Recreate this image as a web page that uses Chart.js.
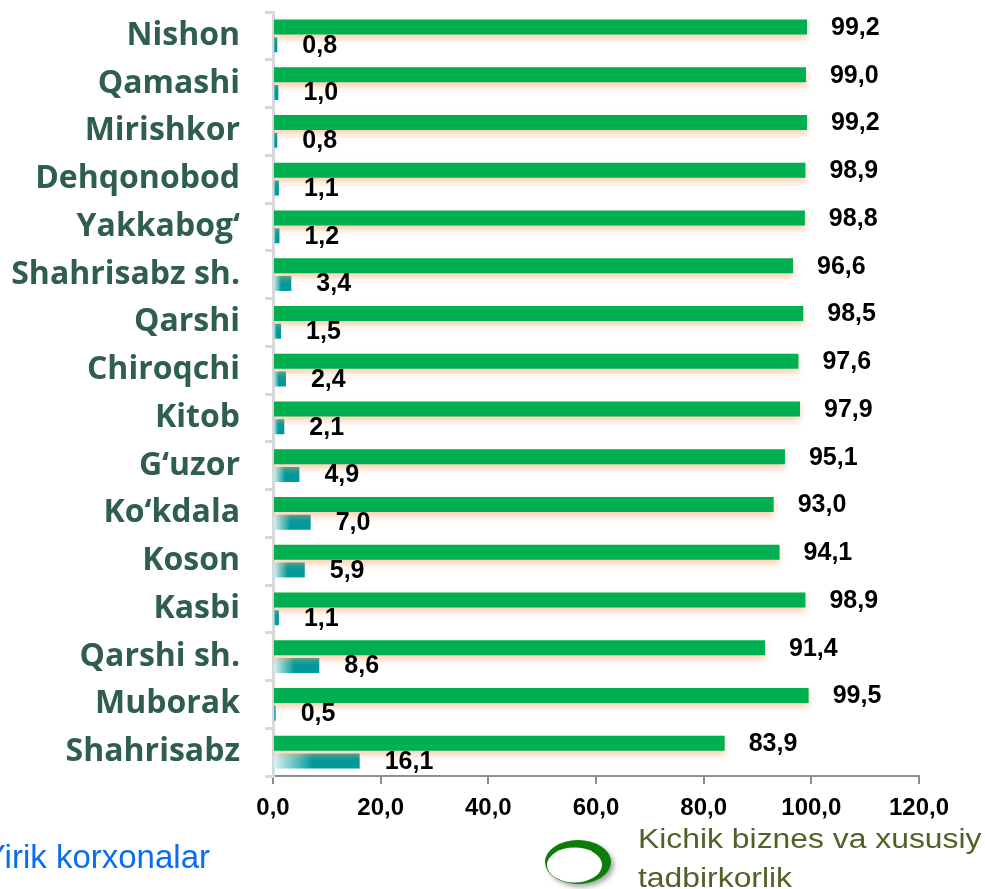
<!DOCTYPE html>
<html>
<head>
<meta charset="utf-8">
<script src="https://cdn.jsdelivr.net/npm/chart.js@4.4.1/dist/chart.umd.min.js"></script>
<style>
  html, body { margin: 0; padding: 0; background: #fff; }
  #wrap { position: relative; width: 985px; height: 889px; }
</style>
</head>
<body>
<div id="wrap"><canvas id="chart"></canvas></div>
<script>
// --- data ---
const CATEGORIES = ["Nishon", "Qamashi", "Mirishkor", "Dehqonobod", "Yakkabog‘", "Shahrisabz sh.", "Qarshi", "Chiroqchi",
  "Kitob", "G‘uzor", "Ko‘kdala", "Koson", "Kasbi", "Qarshi sh.", "Muborak", "Shahrisabz"];
const SMALL_BIZ = [99.2, 99.0, 99.2, 98.9, 98.8, 96.6, 98.5, 97.6, 97.9, 95.1, 93.0, 94.1, 98.9, 91.4, 99.5, 83.9];
const LARGE_ENT = [0.8, 1.0, 0.8, 1.1, 1.2, 3.4, 1.5, 2.4, 2.1, 4.9, 7.0, 5.9, 1.1, 8.6, 0.5, 16.1];
const X_TICKS = [0, 20, 40, 60, 80, 100, 120];

const LABEL_SMALL = "Kichik biznes va xususiy tadbirkorlik";
const LABEL_LARGE = "Yirik korxonalar";

const GREEN = "#00b050";
const TEAL = "#009999";
const fmt = (v) => v.toFixed(1).replace(".", ",");

// teal bars fade in from the left over roughly the first half of each bar
function tealFill(ctx) {
  const chart = ctx.chart;
  const xs = chart.scales.x;
  if (!chart.chartArea || !xs || ctx.dataIndex == null) return TEAL;
  const x0 = xs.getPixelForValue(0);
  const x1 = xs.getPixelForValue(LARGE_ENT[ctx.dataIndex]);
  const g = chart.ctx.createLinearGradient(x0, 0, x0 + Math.max(2, (x1 - x0) * 0.46), 0);
  g.addColorStop(0, "rgba(225,245,245,1)");
  g.addColorStop(1, TEAL);
  return g;
}

// soft orange glow under the green bars
const glow = {
  id: "glow",
  beforeDatasetDraw(chart, args) {
    const c = chart.ctx;
    c.save();
    if (args.index === 0) {
      c.shadowColor = "rgba(248,170,120,0.6)";
      c.shadowBlur = 7;
      c.shadowOffsetY = 4;
    }
  },
  afterDatasetDraw(chart) {
    chart.ctx.restore();
  },
};

// value labels next to each bar
const valueLabels = {
  id: "valueLabels",
  afterDatasetsDraw(chart) {
    const c = chart.ctx;
    c.save();
    c.font = "bold 25px 'Liberation Sans', Arial, sans-serif";
    c.fillStyle = "#000";
    c.textAlign = "left";
    c.textBaseline = "middle";
    chart.data.datasets.forEach((ds, i) => {
      const meta = chart.getDatasetMeta(i);
      meta.data.forEach((bar, j) => {
        c.fillText(fmt(ds.data[j]), bar.x + (i === 0 ? 24 : 25), bar.y + 1);
      });
    });
    c.restore();
  },
};

// legend at the bottom (left entry is clipped by the canvas edge, as in the source)
const bottomLegend = {
  id: "bottomLegend",
  afterDraw(chart) {
    const c = chart.ctx;
    c.save();
    c.font = "33px 'Liberation Sans', Arial, sans-serif";
    c.textBaseline = "alphabetic";
    c.textAlign = "right";
    c.fillStyle = "#0a6cf5";
    c.fillText(LABEL_LARGE, 210, 868);

    // ring marker
    c.save();
    c.shadowColor = "rgba(0,0,0,0.35)";
    c.shadowBlur = 5;
    c.shadowOffsetX = 3;
    c.shadowOffsetY = 3;
    c.beginPath();
    c.ellipse(578, 862, 33, 22, 0, 0, Math.PI * 2);
    c.fillStyle = "#0a7d0a";
    c.fill();
    c.restore();
    c.beginPath();
    c.ellipse(574.5, 865, 27.5, 17.5, 0, 0, Math.PI * 2);
    c.fillStyle = "#fff";
    c.fill();

    // legend text, slightly stretched horizontally like the source
    c.textAlign = "left";
    c.fillStyle = "#4f6228";
    c.font = "27px 'Liberation Sans', Arial, sans-serif";
    const words = LABEL_SMALL.split(" ");
    c.translate(638, 0);
    c.scale(1.18, 1);
    c.fillText(words.slice(0, 4).join(" "), 0, 848);
    c.fillText(words.slice(4).join(" "), 0, 887);
    c.restore();
  },
};

new Chart(document.getElementById("chart"), {
  type: "bar",
  data: {
    labels: CATEGORIES,
    datasets: [
      { label: LABEL_SMALL, data: SMALL_BIZ, backgroundColor: GREEN },
      { label: LABEL_LARGE, data: LARGE_ENT, backgroundColor: tealFill },
    ],
  },
  options: {
    indexAxis: "y",
    responsive: true,
    maintainAspectRatio: false,
    animation: false,
    categoryPercentage: 0.74,
    barPercentage: 0.85,
    layout: { padding: { top: 12, right: 66, left: 0, bottom: 0 } },
    plugins: { legend: { display: false }, tooltip: { enabled: false } },
    scales: {
      x: {
        min: 0,
        max: 120,
        afterBuildTicks: (s) => { s.ticks = X_TICKS.map((v) => ({ value: v })); },
        afterFit: (s) => { s.height = 113; s.paddingLeft = 0; s.paddingRight = 0; },
        border: { color: "#8c8c8c", width: 2 },
        grid: { drawOnChartArea: false, drawTicks: true, tickLength: 8, color: "#8c8c8c", lineWidth: 2 },
        ticks: {
          padding: 10,
          color: "#000",
          font: { family: "'Liberation Sans', Arial, sans-serif", size: 24, weight: "bold" },
          callback: (v) => fmt(v),
        },
      },
      y: {
        afterFit: (s) => { s.width = 273; s.paddingTop = 0; s.paddingBottom = 0; },
        border: { color: "#d9d9d9", width: 3 },
        grid: { drawOnChartArea: false, offset: true, tickLength: 8, color: "#d9d9d9", lineWidth: 3 },
        ticks: {
          padding: 25,
          color: "#2f5e4e",
          font: { family: "'Open Sans', 'Noto Sans', sans-serif", size: 32, weight: "bold" },
        },
      },
    },
  },
  plugins: [glow, valueLabels, bottomLegend],
});
</script>
</body>
</html>
